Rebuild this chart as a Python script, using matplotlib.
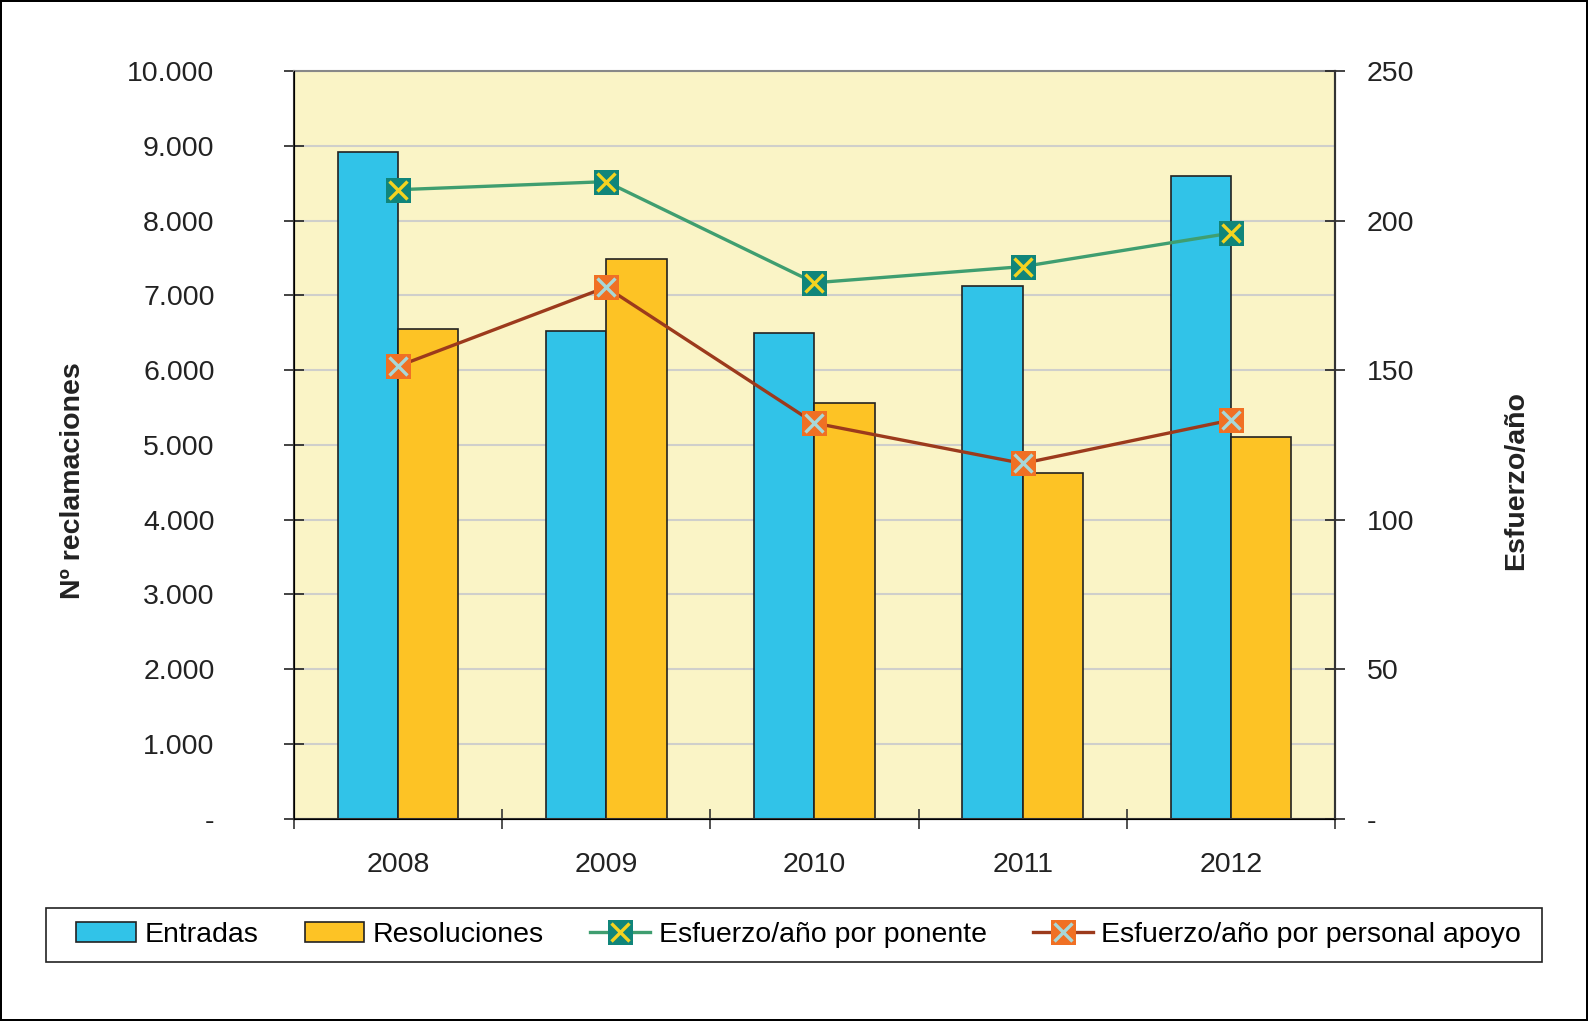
import numpy as np
import matplotlib
matplotlib.use("Agg")
import matplotlib.pyplot as plt
from matplotlib.ticker import FuncFormatter, FixedLocator
from matplotlib.legend_handler import HandlerTuple
from matplotlib.patches import Rectangle

plt.rcParams['font.family'] = ['Liberation Sans', 'DejaVu Sans']

# Data
years = ['2008', '2009', '2010', '2011', '2012']
entradas = [8915, 6525, 6495, 7125, 8590]
resoluciones = [6550, 7490, 5555, 4625, 5105]
esfuerzo_ponente = [210.3, 213.0, 179.2, 184.6, 195.8]
esfuerzo_apoyo = [151.3, 177.7, 132.3, 118.8, 133.3]

c_entr = '#31C3E8'
c_resol = '#FDC325'
c_bg = '#FAF4C6'
c_pon_line = '#3F9E70'
c_pon_face = '#10857A'
c_pon_x = '#F4D320'
c_apo_line = '#9C3A1C'
c_apo_face = '#F07024'
c_apo_x = '#A8D8D8'


def thousands(v, pos):
    if v == 0:
        return '-'
    return f"{v:,.0f}".replace(",", ".")


fig = plt.figure(figsize=(15.88, 10.21), dpi=100)
fig.patch.set_edgecolor('black')
fig.patch.set_linewidth(1.5)

ax = fig.add_axes([0.185, 0.198, 0.6557, 0.7325])
ax.set_facecolor(c_bg)
x = np.arange(len(years))
w = 0.29

ax.bar(x - w / 2, entradas, w, color=c_entr, edgecolor='#222222', linewidth=1.2,
       label='Entradas', zorder=2)
ax.bar(x + w / 2, resoluciones, w, color=c_resol, edgecolor='#222222', linewidth=1.2,
       label='Resoluciones', zorder=2)

ax.set_xlim(-0.5, len(years) - 0.5)
ax.set_ylim(0, 10000)
ax.set_yticks(np.arange(0, 10001, 1000))
ax.yaxis.set_major_formatter(FuncFormatter(thousands))
ax.yaxis.grid(True, color='#CFCFCB', linewidth=1.5, zorder=0)
ax.set_axisbelow(True)

ax.set_xticks(x)
ax.set_xticklabels(years)
ax.xaxis.set_minor_locator(FixedLocator(np.arange(-0.5, len(years), 1.0)))
ax.tick_params(axis='x', which='major', length=0, pad=24, labelsize=20.5, colors='#222222')
ax.tick_params(axis='x', which='minor', direction='inout', length=14, width=1.2, color='#333333')
ax.tick_params(axis='y', direction='inout', length=14, width=1.2, pad=50,
               labelsize=20.5, colors='#222222')

for s in ['left', 'bottom', 'right']:
    ax.spines[s].set_color('#333333')
    ax.spines[s].set_linewidth(1.5)
ax.spines['top'].set_color('#888888')
ax.spines['top'].set_linewidth(1.5)

ax2 = ax.twinx()
ax2.set_ylim(0, 250)
ax2.set_yticks(np.arange(0, 251, 50))
ax2.yaxis.set_major_formatter(FuncFormatter(thousands))
ax2.tick_params(axis='y', direction='inout', length=14, width=1.2, pad=16,
                labelsize=20.5, colors='#222222')
ax2.spines['right'].set_color('#333333')
ax2.spines['right'].set_linewidth(1.5)
ax2.spines['top'].set_visible(False)

l1, = ax2.plot(x, esfuerzo_ponente, color=c_pon_line, linewidth=2.4, marker='s',
               markersize=18, markerfacecolor=c_pon_face, markeredgewidth=0, zorder=3)
x1, = ax2.plot(x, esfuerzo_ponente, linestyle='none', marker='x', markersize=12.5,
               markeredgewidth=2.4, color=c_pon_x, zorder=4)
l2, = ax2.plot(x, esfuerzo_apoyo, color=c_apo_line, linewidth=2.4, marker='s',
               markersize=18, markerfacecolor=c_apo_face, markeredgewidth=0, zorder=3)
x2, = ax2.plot(x, esfuerzo_apoyo, linestyle='none', marker='x', markersize=12.5,
               markeredgewidth=2.4, color=c_apo_x, zorder=4)

fig.text(0.046, 0.529, 'Nº reclamaciones', rotation=90, ha='center', va='center',
         fontsize=20.5, fontweight='bold', color='#222222')
fig.text(0.9547, 0.529, 'Esfuerzo/año', rotation=90, ha='center', va='center',
         fontsize=20.5, fontweight='bold', color='#222222')

# legend frame drawn separately so the entries can sit with more side padding
fig.add_artist(Rectangle((0.029, 0.0578), 0.942, 0.0532, transform=fig.transFigure,
                         facecolor='white', edgecolor='#222222', linewidth=1.2, zorder=1))

bars_handles, bars_labels = ax.get_legend_handles_labels()
handles = bars_handles + [(l1, x1), (l2, x2)]
labels = bars_labels + ['Esfuerzo/año por ponente', 'Esfuerzo/año por personal apoyo']
leg = fig.legend(handles, labels, loc='center', ncol=4, mode='expand',
                 bbox_to_anchor=(0.0479, 0.0578, 0.910, 0.0532),
                 fontsize=20.5, frameon=False, handlelength=2.1, handletextpad=0.3,
                 borderpad=0, borderaxespad=0,
                 handler_map={tuple: HandlerTuple(ndivide=1, pad=0)})
leg.set_zorder(2)

fig.savefig('out.png', dpi=100, edgecolor=fig.get_edgecolor())
